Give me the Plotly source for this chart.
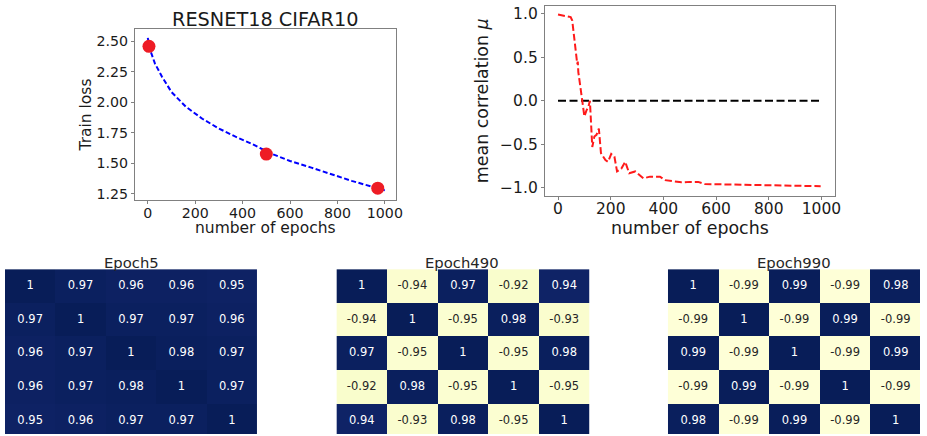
import plotly.graph_objects as go

# ---------------- data ----------------
loss_epochs = [0, 10, 30, 60, 100, 160, 230, 300, 370, 440, 520, 600, 690, 770, 860, 1000]
loss_values = [2.53, 2.43, 2.32, 2.21, 2.085, 1.965, 1.865, 1.785, 1.718, 1.658, 1.58, 1.518, 1.464, 1.41, 1.355, 1.277]
marker_epochs = [5, 500, 970]
marker_loss = [2.46, 1.575, 1.295]

corr_epochs = [0, 25, 48, 54, 63, 70, 73, 75, 77, 83, 92, 100, 108, 115, 121, 130, 138, 146, 155,
               163, 180, 190, 202, 214, 224, 240, 255, 270, 293, 324, 349, 387, 406, 444, 469, 500,
               532, 557, 657, 783, 909, 997]
corr_values = [0.99, 0.975, 0.96, 0.92, 0.65, 0.46, 0.42, 0.45, 0.33, 0.20, 0.0, -0.18, -0.11, -0.07, 0.0,
               -0.53, -0.41, -0.39, -0.32, -0.60, -0.68, -0.70, -0.61, -0.64, -0.81, -0.78, -0.70, -0.83,
               -0.81, -0.89, -0.87, -0.87, -0.91, -0.93, -0.935, -0.93, -0.93, -0.955, -0.96, -0.97,
               -0.975, -0.98]
zero_epochs = [0, 1000]
zero_values = [0, 0]

epoch5 = [[1, 0.97, 0.96, 0.96, 0.95],
          [0.97, 1, 0.97, 0.97, 0.96],
          [0.96, 0.97, 1, 0.98, 0.97],
          [0.96, 0.97, 0.98, 1, 0.97],
          [0.95, 0.96, 0.97, 0.97, 1]]
epoch490 = [[1, -0.94, 0.97, -0.92, 0.94],
            [-0.94, 1, -0.95, 0.98, -0.93],
            [0.97, -0.95, 1, -0.95, 0.98],
            [-0.92, 0.98, -0.95, 1, -0.95],
            [0.94, -0.93, 0.98, -0.95, 1]]
epoch990 = [[1, -0.99, 0.99, -0.99, 0.98],
            [-0.99, 1, -0.99, 0.99, -0.99],
            [0.99, -0.99, 1, -0.99, 0.99],
            [-0.99, 0.99, -0.99, 1, -0.99],
            [0.98, -0.99, 0.99, -0.99, 1]]
heat_titles = ["Epoch5", "Epoch490", "Epoch990"]

loss_xticks = [0, 200, 400, 600, 800, 1000]
loss_yticks = [1.25, 1.50, 1.75, 2.00, 2.25, 2.50]
corr_yticks = [-1.0, -0.5, 0.0, 0.5, 1.0]

# ---------------- layout helpers ----------------
W, H = 927, 436
FONT = "DejaVu Sans"
TXT = "#1a1a1a"
SPINE = "#808080"


def dx(a, b):
    return [a / W, b / W]


def dy(top, bottom):
    return [max(0.0, 1 - bottom / H), min(1.0, 1 - top / H)]


def fmt(v):
    return ("%.2f" % v).replace("-", "\u2212")


def fmt1(v):
    return ("%.1f" % v).replace("-", "\u2212")


ylgnbu = [[0.0, '#ffffd9'], [0.125, '#edf8b1'], [0.25, '#c7e9b4'], [0.375, '#7fcdbb'],
          [0.5, '#41b6c4'], [0.625, '#1d91c0'], [0.75, '#225ea8'], [0.875, '#253494'],
          [1.0, '#081d58']]

fig = go.Figure()

# top-left: train loss
fig.add_trace(go.Scatter(x=loss_epochs, y=loss_values, mode='lines',
                         line=dict(color='#0000ff', width=2, dash='5px,2.5px'),
                         xaxis='x', yaxis='y', showlegend=False))
fig.add_trace(go.Scatter(x=marker_epochs, y=marker_loss, mode='markers',
                         marker=dict(color='#ee1c25', size=13),
                         xaxis='x', yaxis='y', showlegend=False))

# top-right: mean correlation
fig.add_trace(go.Scatter(x=zero_epochs, y=zero_values, mode='lines',
                         line=dict(color='black', width=2, dash='8px,3.5px'),
                         xaxis='x2', yaxis='y2', showlegend=False))
fig.add_trace(go.Scatter(x=corr_epochs, y=corr_values, mode='lines',
                         line=dict(color='#ff1a1a', width=2, dash='7px,3px'),
                         xaxis='x2', yaxis='y2', showlegend=False))

common_axis = dict(showline=True, mirror=True, linecolor=SPINE, linewidth=1,
                   ticks='outside', ticklen=3, tickcolor=SPINE, showgrid=False,
                   zeroline=False, tickfont=dict(family=FONT, color=TXT))

layout = dict(width=W, height=H, margin=dict(l=0, r=0, t=0, b=0),
              paper_bgcolor='white', plot_bgcolor='white',
              font=dict(family=FONT, color=TXT), showlegend=False)

layout['xaxis'] = dict(common_axis, domain=dx(136, 399), range=[-54, 1047], anchor='y',
                       tickvals=loss_xticks, ticktext=[str(t) for t in loss_xticks],
                       ticklabelstandoff=-3,
                       tickfont=dict(family=FONT, color=TXT, size=14.2))
layout['yaxis'] = dict(common_axis, domain=dy(28, 200), range=[1.201, 2.604], anchor='x',
                       tickvals=loss_yticks, ticktext=[fmt(t) for t in loss_yticks],
                       tickfont=dict(family=FONT, color=TXT, size=14.2))
layout['xaxis2'] = dict(common_axis, domain=dx(549, 841), range=[-50, 1050], anchor='y2',
                        tickvals=loss_xticks, ticktext=[str(t) for t in loss_xticks],
                        ticklabelstandoff=-4,
                        tickfont=dict(family=FONT, color=TXT, size=15.5))
layout['yaxis2'] = dict(common_axis, domain=dy(5, 196), range=[-1.088, 1.088], anchor='x2',
                        tickvals=corr_yticks, ticktext=[fmt1(t) for t in corr_yticks],
                        tickfont=dict(family=FONT, color=TXT, size=15.5))

# heatmaps
heat_data = [epoch5, epoch490, epoch990]
heat_x = [(5, 259, [-0.5, 4.5]), (339, 594, [-0.5, 4.5]), (673, 927, [-0.5, 4.48])]
heat_title_x = [132, 466, 800]
annotations = []
for k, z in enumerate(heat_data):
    xa = 'x%d' % (k + 3)
    ya = 'y%d' % (k + 3)
    n = len(z)
    idx = list(range(n))
    fig.add_trace(go.Heatmap(z=z, x=idx, y=idx, colorscale=ylgnbu, zmin=-1, zmax=1,
                             showscale=False, xaxis=xa, yaxis=ya, hoverinfo='skip'))
    tx, ty, tt, tc = [], [], [], []
    for r in range(n):
        for c in range(n):
            v = z[r][c]
            tx.append(c)
            ty.append(r)
            tt.append('%g' % v)
            tc.append('white' if v > 0 else '#262626')
    fig.add_trace(go.Scatter(x=tx, y=ty, mode='text', text=tt,
                             textfont=dict(family=FONT, size=11.5, color=tc),
                             xaxis=xa, yaxis=ya, showlegend=False, hoverinfo='skip'))
    a, b, xr = heat_x[k]
    hid = dict(showgrid=False, zeroline=False, showticklabels=False, ticks='', showline=False)
    layout['xaxis%d' % (k + 3)] = dict(hid, domain=dx(a, b), range=xr, anchor=ya)
    layout['yaxis%d' % (k + 3)] = dict(hid, domain=dy(270, 436), range=[4.394, -0.5], anchor=xa)
    annotations.append(dict(text=heat_titles[k], x=heat_title_x[k] / W, y=1 - 263.5 / H,
                            xref='paper', yref='paper', xanchor='center', yanchor='middle',
                            showarrow=False, font=dict(family=FONT, size=14.8, color='#262626')))

# titles and axis labels
annotations += [
    dict(text="RESNET18 CIFAR10", x=267 / W, y=1 - 18.2 / H, xref='paper', yref='paper',
         xanchor='center', yanchor='middle', showarrow=False,
         font=dict(family=FONT, size=19.3, color=TXT)),
    dict(text="Train loss", x=87 / W, y=1 - 115 / H, xref='paper', yref='paper',
         xanchor='center', yanchor='middle', textangle=-90, showarrow=False,
         font=dict(family=FONT, size=15.5, color=TXT)),
    dict(text="number of epochs", x=268 / W, y=1 - 229 / H, xref='paper', yref='paper',
         xanchor='center', yanchor='middle', showarrow=False,
         font=dict(family=FONT, size=15.5, color=TXT)),
    dict(text="mean correlation <i>\u03bc</i>", x=485.5 / W, y=1 - 100 / H, xref='paper', yref='paper',
         xanchor='center', yanchor='middle', textangle=-90, showarrow=False,
         font=dict(family=FONT, size=17.4, color=TXT)),
    dict(text="number of epochs", x=695 / W, y=1 - 228.5 / H, xref='paper', yref='paper',
         xanchor='center', yanchor='middle', showarrow=False,
         font=dict(family=FONT, size=17.4, color=TXT)),
]
layout['annotations'] = annotations

fig.update_layout(**layout)
fig.write_html("out.html")
